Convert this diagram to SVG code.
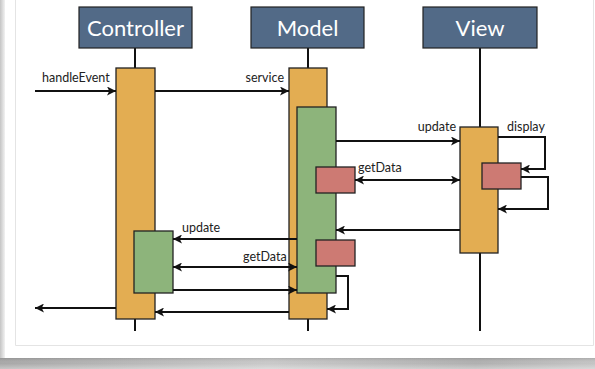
<svg xmlns="http://www.w3.org/2000/svg" width="595" height="369" viewBox="0 0 595 369">
<defs>
<linearGradient id="leftEdge" x1="0" x2="1" y1="0" y2="0">
<stop offset="0" stop-color="#c4c4c4"/><stop offset="1" stop-color="#f2f2f2"/>
</linearGradient>
<linearGradient id="shadow" x1="0" x2="1" y1="0" y2="0">
<stop offset="0" stop-color="#a8a8a8"/><stop offset="0.45" stop-color="#c9c9c9"/><stop offset="0.8" stop-color="#b0b0b0"/><stop offset="1" stop-color="#c4c4c4"/>
</linearGradient>
<linearGradient id="shadowV" x1="0" x2="0" y1="0" y2="1">
<stop offset="0" stop-color="#000" stop-opacity="0.12"/><stop offset="0.5" stop-color="#fff" stop-opacity="0"/><stop offset="1" stop-color="#fff" stop-opacity="0.35"/>
</linearGradient>
<marker id="ah" viewBox="0 0 10 10" refX="10" refY="5" markerWidth="4.5" markerHeight="4.5" orient="auto-start-reverse" markerUnits="strokeWidth">
<path d="M0,0 L10,5 L0,10 L2.5,5 Z" fill="#111"/>
</marker>
<style>
.hdr{fill:#526a87;stroke:#222;stroke-width:1.2}
.hdrt{font-family:Lato,"Open Sans",sans-serif;font-size:22px;fill:#fff;text-anchor:middle}
.life{stroke:#111;stroke-width:2;fill:none}
.act{fill:#e3ad52;stroke:#222;stroke-width:1.3}
.grn{fill:#8db47b;stroke:#222;stroke-width:1.3}
.red{fill:#cd7a73;stroke:#222;stroke-width:1.3}
.msg{stroke:#111;stroke-width:2;fill:none;marker-end:url(#ah)}
.bi{marker-start:url(#ah)}
.lbl{font-family:Lato,"Open Sans",sans-serif;font-size:12.5px;fill:#222}
</style>
</defs>
<rect x="0" y="0" width="595" height="369" fill="#ffffff"/>
<rect x="0" y="0" width="5" height="358" fill="url(#leftEdge)"/>
<rect x="0" y="358" width="595" height="11" fill="url(#shadow)"/>
<rect x="0" y="358" width="595" height="11" fill="url(#shadowV)"/>
<path d="M15.5,0 V345.5 H593.5 V0" fill="none" stroke="#e4e4e4" stroke-width="1"/>

<g id="lifelines">
<line class="life" x1="135" y1="48" x2="135" y2="331"/>
<line class="life" x1="308" y1="48" x2="308" y2="331"/>
<line class="life" x1="480" y1="48" x2="480" y2="331"/>
</g>

<g id="controller">
<rect class="hdr" x="79" y="7" width="113" height="41"/>
<text class="hdrt" x="135.5" y="36">Controller</text>
</g>
<g id="model">
<rect class="hdr" x="251" y="7" width="113" height="41"/>
<text class="hdrt" x="307.5" y="36">Model</text>
</g>
<g id="view">
<rect class="hdr" x="423" y="7" width="114" height="41"/>
<text class="hdrt" x="480" y="36">View</text>
</g>

<g id="controller-activation">
<rect class="act" x="116" y="68" width="39" height="251"/>
</g>
<g id="controller-update">
<rect class="grn" x="134" y="231" width="39" height="62"/>
</g>
<g id="model-activation">
<rect class="act" x="289" y="68" width="38" height="251"/>
</g>
<g id="model-service">
<rect class="grn" x="297" y="107" width="39" height="186"/>
</g>
<g id="model-getdata-1">
<rect class="red" x="316" y="167" width="39" height="26"/>
</g>
<g id="model-getdata-2">
<rect class="red" x="316" y="240" width="39" height="26"/>
</g>
<g id="view-activation">
<rect class="act" x="460" y="127" width="38" height="126"/>
</g>
<g id="view-display">
<rect class="red" x="482" y="163" width="39" height="26"/>
</g>

<g id="connectors">
<line class="msg" x1="35" y1="91" x2="116" y2="91"/>
<line class="msg" x1="155" y1="91" x2="289" y2="91"/>
<line class="msg" x1="336" y1="141" x2="460" y2="141"/>
<path class="msg" d="M498,137 H545 V169 H521"/>
<line class="msg bi" x1="355" y1="180" x2="460" y2="180"/>
<path class="msg" d="M521,177 H548 V209 H498"/>
<line class="msg" x1="460" y1="230" x2="336" y2="230"/>
<line class="msg" x1="297" y1="239" x2="173" y2="239"/>
<line class="msg bi" x1="173" y1="267" x2="297" y2="267"/>
<line class="msg" x1="173" y1="290" x2="297" y2="290"/>
<path class="msg" d="M336,276 H348 V309 H327"/>
<line class="msg" x1="289" y1="312" x2="155" y2="312"/>
<line class="msg" x1="116" y1="308" x2="35" y2="308"/>
<text class="lbl" x="42" y="82">handleEvent</text>
<text class="lbl" x="284" y="82" text-anchor="end">service</text>
<text class="lbl" x="456" y="131" text-anchor="end">update</text>
<text class="lbl" x="507" y="131">display</text>
<text class="lbl" x="358" y="172">getData</text>
<text class="lbl" x="182" y="232">update</text>
<text class="lbl" x="243" y="261">getData</text>
</g>
</svg>
